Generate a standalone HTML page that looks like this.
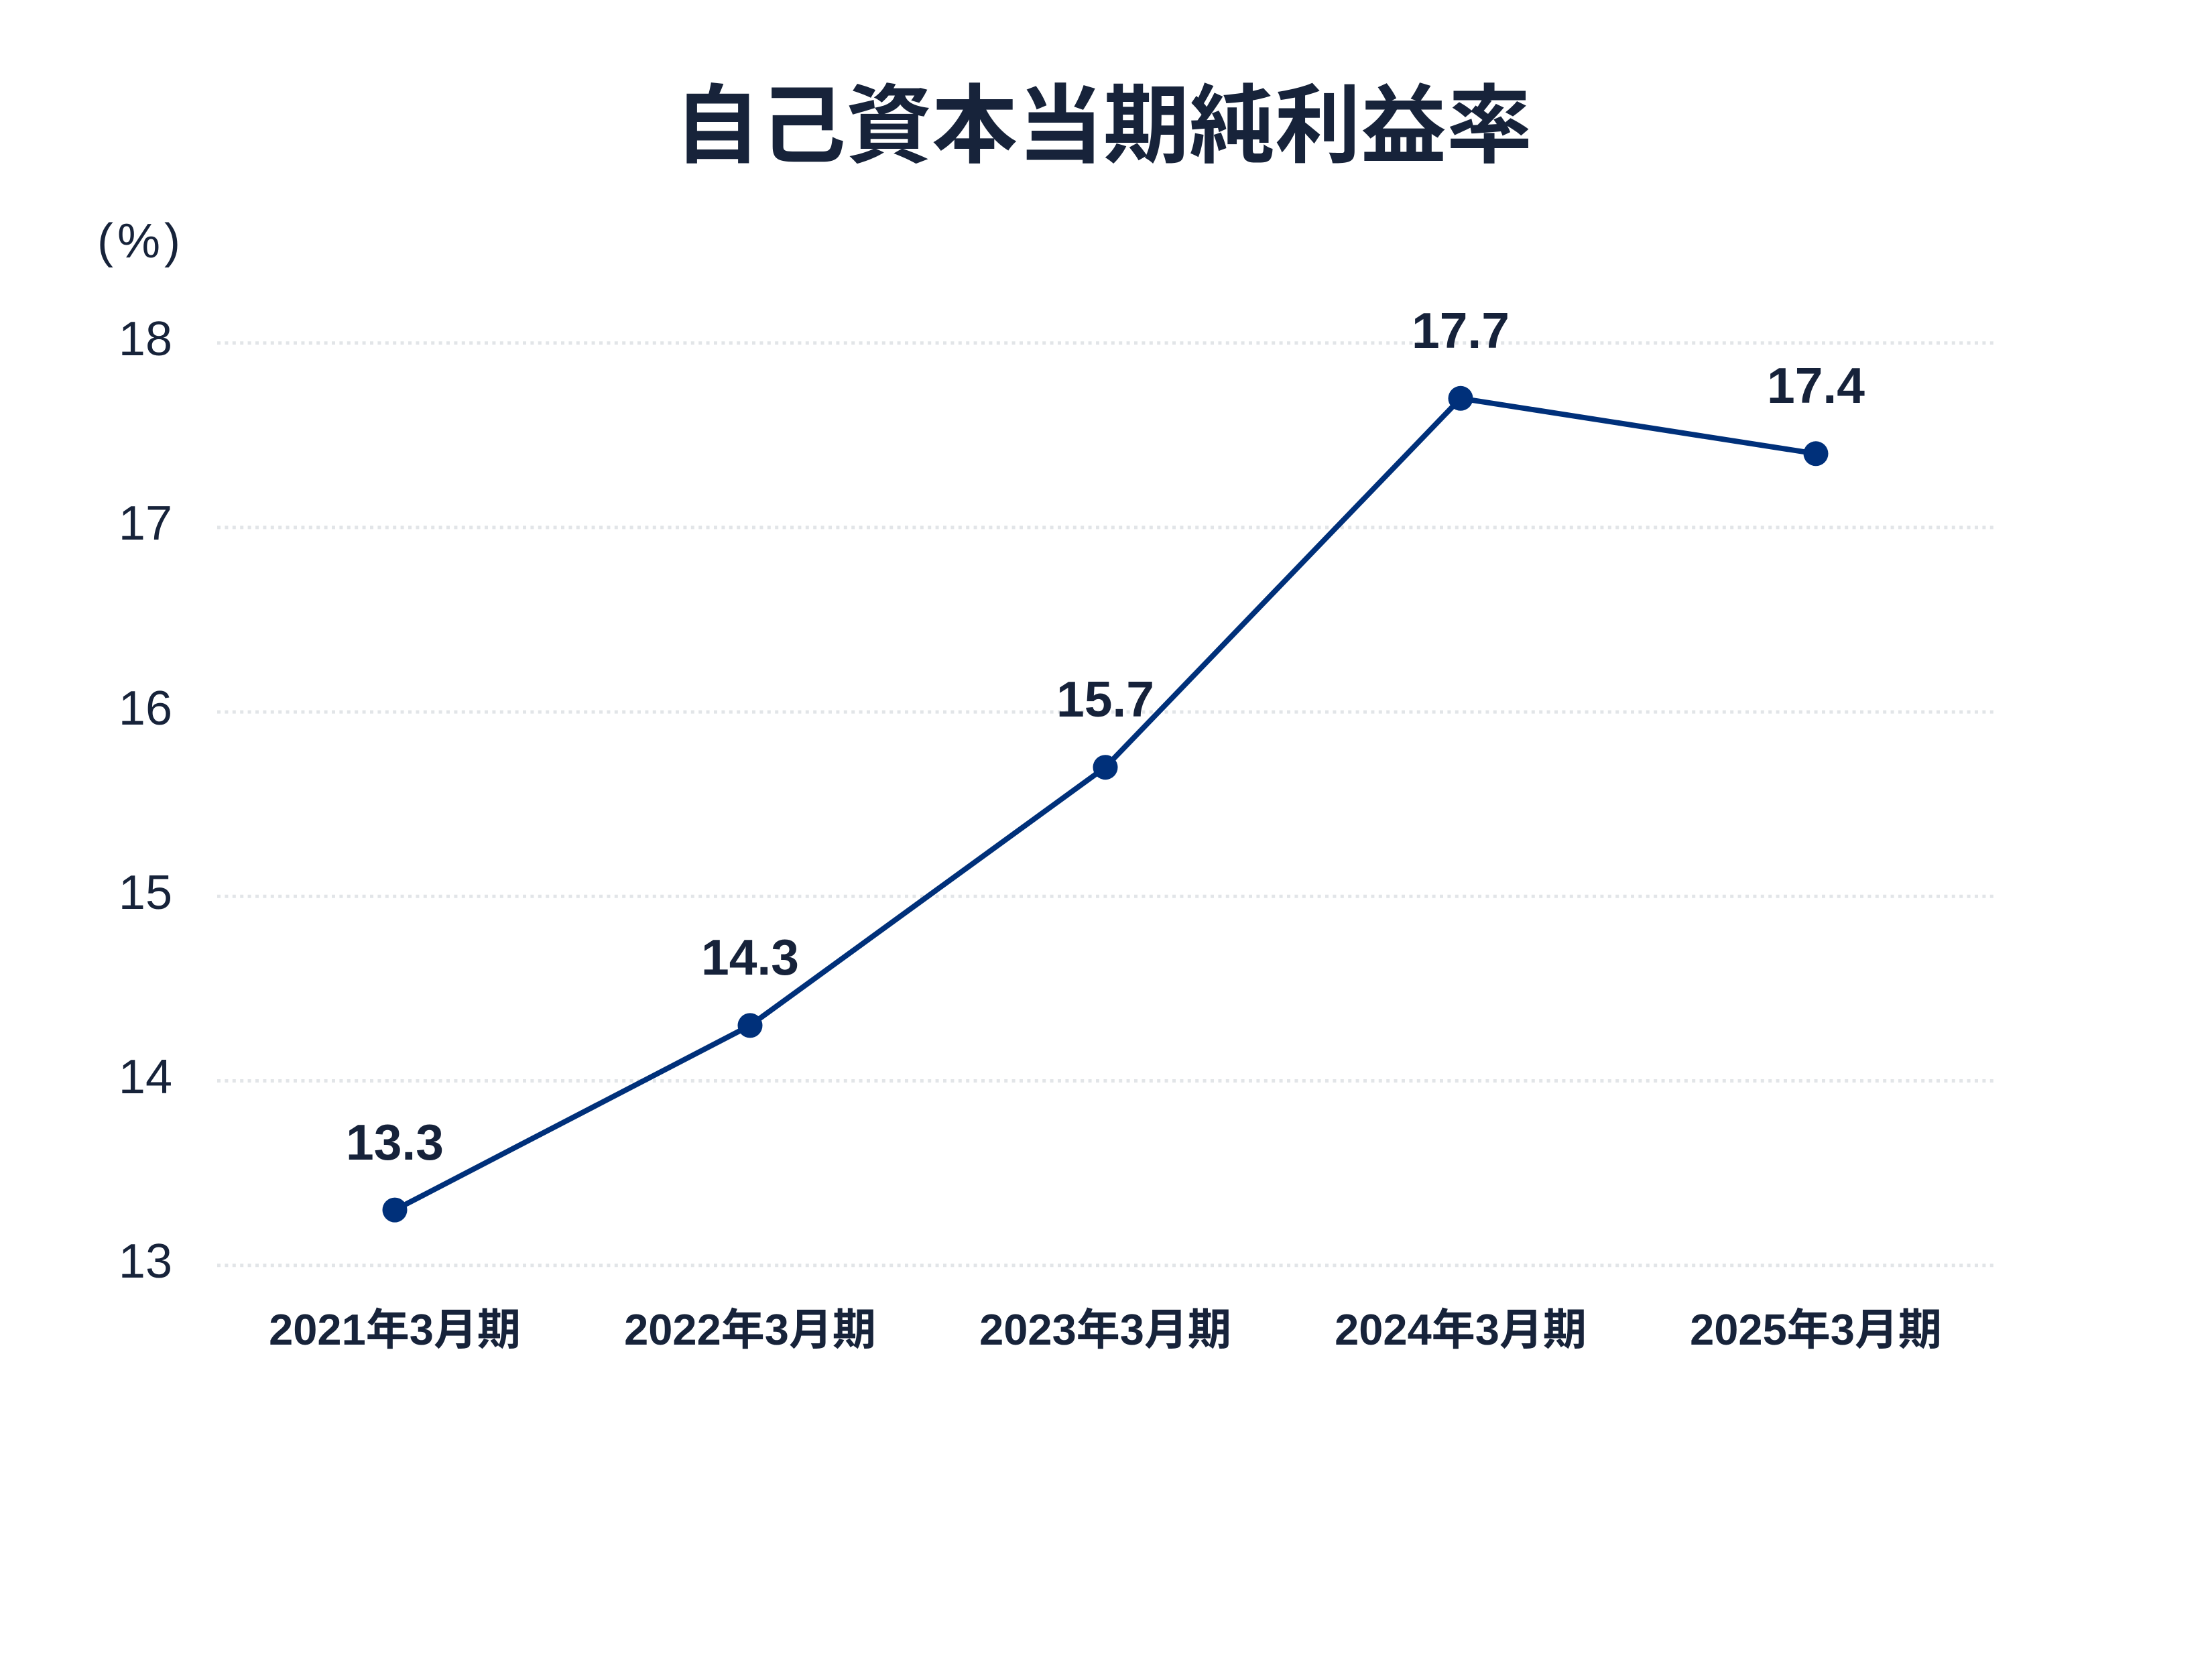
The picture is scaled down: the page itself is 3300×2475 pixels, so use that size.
<!DOCTYPE html>
<html lang="ja">
<head>
<meta charset="utf-8">
<style>
  html, body { margin: 0; padding: 0; background: #ffffff; }
  body { width: 3300px; height: 2475px; overflow: hidden; }
  svg { display: block; }
  .title { font-family: "Liberation Sans", "Noto Sans CJK JP", sans-serif; font-weight: 700; font-size: 128px; fill: #17233a; }
  .ytick { font-family: "Liberation Sans", "Noto Sans CJK JP", sans-serif; font-weight: 300; font-size: 72px; fill: #17233a; }
  .unit { font-family: "Liberation Sans", "Noto Sans CJK JP", sans-serif; font-weight: 300; font-size: 72px; fill: #17233a; letter-spacing: 6px; }
  .val { font-family: "Liberation Sans", "Noto Sans CJK JP", sans-serif; font-weight: 700; font-size: 75px; fill: #16223a; }
  .xlab { font-family: "Liberation Sans", "Noto Sans CJK JP", sans-serif; font-weight: 700; font-size: 65px; fill: #17233a; }
</style>
</head>
<body>
<svg width="3300" height="2475" viewBox="0 0 3300 2475" xmlns="http://www.w3.org/2000/svg">
  <rect x="0" y="0" width="3300" height="2475" fill="#ffffff"/>

  <!-- Title -->
  <text class="title" x="1646" y="232" text-anchor="middle">自己資本当期純利益率</text>

  <!-- Unit -->
  <text class="unit" x="145" y="384">(%)</text>

  <!-- Gridlines -->
  <g stroke="#e2e5e8" stroke-width="5" stroke-dasharray="5 6.4" fill="none">
    <line x1="324" y1="511.7" x2="2975" y2="511.7"/>
    <line x1="324" y1="786.9" x2="2975" y2="786.9"/>
    <line x1="324" y1="1062.1" x2="2975" y2="1062.1"/>
    <line x1="324" y1="1337.3" x2="2975" y2="1337.3"/>
    <line x1="324" y1="1612.5" x2="2975" y2="1612.5"/>
    <line x1="324" y1="1887.7" x2="2975" y2="1887.7"/>
  </g>

  <!-- Y tick labels -->
  <g text-anchor="end">
    <text class="ytick" x="257" y="530">18</text>
    <text class="ytick" x="257" y="805">17</text>
    <text class="ytick" x="257" y="1081">16</text>
    <text class="ytick" x="257" y="1356">15</text>
    <text class="ytick" x="257" y="1631">14</text>
    <text class="ytick" x="257" y="1906">13</text>
  </g>

  <!-- Series line -->
  <polyline fill="none" stroke="#00307a" stroke-width="8" stroke-linejoin="round" stroke-linecap="round"
    points="589,1805.1 1119,1529.9 1649,1144.7 2179,594.3 2709,676.8"/>

  <!-- Markers -->
  <g fill="#00307a">
    <circle cx="589" cy="1805.1" r="18.5"/>
    <circle cx="1119" cy="1529.9" r="18.5"/>
    <circle cx="1649" cy="1144.7" r="18.5"/>
    <circle cx="2179" cy="594.3" r="18.5"/>
    <circle cx="2709" cy="676.8" r="18.5"/>
  </g>

  <!-- Value labels -->
  <g text-anchor="middle">
    <text class="val" x="589" y="1730">13.3</text>
    <text class="val" x="1119" y="1454">14.3</text>
    <text class="val" x="1649" y="1069">15.7</text>
    <text class="val" x="2179" y="519">17.7</text>
    <text class="val" x="2709" y="601">17.4</text>
  </g>

  <!-- X labels -->
  <g text-anchor="middle">
    <text class="xlab" x="589" y="2006">2021年3月期</text>
    <text class="xlab" x="1119" y="2006">2022年3月期</text>
    <text class="xlab" x="1649" y="2006">2023年3月期</text>
    <text class="xlab" x="2179" y="2006">2024年3月期</text>
    <text class="xlab" x="2709" y="2006">2025年3月期</text>
  </g>
</svg>
</body>
</html>
